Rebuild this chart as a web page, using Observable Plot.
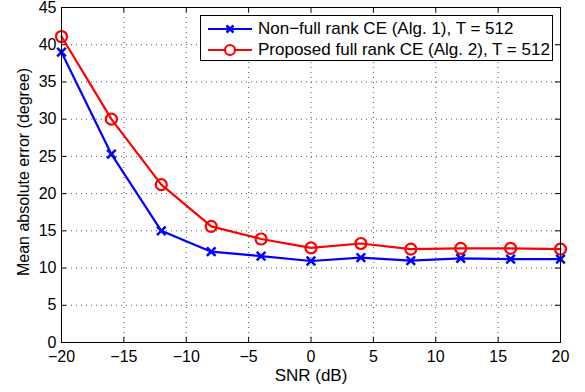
<!DOCTYPE html>
<html>
<head>
<meta charset="utf-8">
<script src="https://cdn.jsdelivr.net/npm/d3@7"></script>
<script src="https://cdn.jsdelivr.net/npm/@observablehq/plot@0.6"></script>
<style>
  html, body { margin: 0; padding: 0; background: #fff; }
  #wrap { position: relative; width: 585px; height: 392px; font-family: "Liberation Sans", Arial, sans-serif; }
  #legend { position: absolute; left: 200px; top: 15px; width: 351px; height: 44px; background: #fff; border: 1px solid #000; font-size: 17px; color: #000; }
  .row { position: absolute; left: 0; height: 20px; display: flex; align-items: center; white-space: nowrap; }
  .row svg { margin-left: 7px; margin-right: 6px; }
</style>
</head>
<body>
<div id="wrap"></div>
<script>
const snr = [-20, -16, -12, -8, -4, 0, 4, 8, 12, 16, 20];
const nonFull = [39.0, 25.3, 15.0, 12.2, 11.6, 10.95, 11.4, 11.0, 11.3, 11.2, 11.2];
const proposed = [41.1, 30.0, 21.2, 15.6, 13.9, 12.7, 13.3, 12.55, 12.65, 12.65, 12.55];
const seriesNames = ["Non\u2212full rank CE (Alg. 1), T = 512", "Proposed full rank CE (Alg. 2), T = 512"];
const seriesColors = ["#0000ff", "#ff0000"];
const xTicks = [-20, -15, -10, -5, 0, 5, 10, 15, 20];
const yTicks = [0, 5, 10, 15, 20, 25, 30, 35, 40, 45];
const xLabel = "SNR (dB)";
const yLabel = "Mean absolute error (degree)";

const blue = snr.map((x, i) => ({x, y: nonFull[i]}));
const red = snr.map((x, i) => ({x, y: proposed[i]}));
const fmt = d => d < 0 ? "\u2212" + Math.abs(d) : String(d);

const tx = 0.4, ty = 0.7; // inner tick lengths in data units
const plot = Plot.plot({
  width: 585, height: 392,
  marginLeft: 61, marginRight: 25, marginTop: 7, marginBottom: 50,
  style: {fontFamily: "Liberation Sans, Arial, sans-serif", fontSize: "16px", color: "#000", background: "#fff"},
  x: {domain: [-20, 20], ticks: xTicks, tickFormat: fmt, label: null},
  y: {domain: [0, 45], ticks: yTicks, label: null},
  marks: [
    Plot.gridX(xTicks.slice(1, -1), {stroke: "#555", strokeOpacity: 1, strokeDasharray: "1,4", strokeWidth: 1}),
    Plot.gridY(yTicks.slice(1, -1), {stroke: "#555", strokeOpacity: 1, strokeDasharray: "1,4", strokeWidth: 1}),
    Plot.ruleX(xTicks, {y1: 0, y2: ty, stroke: "#000"}),
    Plot.ruleX(xTicks, {y1: 45, y2: 45 - ty, stroke: "#000"}),
    Plot.ruleY(yTicks, {x1: -20, x2: -20 + tx, stroke: "#000"}),
    Plot.ruleY(yTicks, {x1: 20, x2: 20 - tx, stroke: "#000"}),
    Plot.axisX({ticks: xTicks, tickSize: 0, tickPadding: 8, fontSize: 16, tickFormat: fmt, label: null}),
    Plot.axisY({ticks: yTicks, tickSize: 0, tickPadding: 5, fontSize: 16, label: null}),
    Plot.text([xLabel], {frameAnchor: "bottom", dy: 38, fontSize: 17, fill: "#000"}),
    Plot.text([yLabel], {frameAnchor: "left", textAnchor: "middle", dx: -38, dy: -3, rotate: -90, fontSize: 16, fill: "#000"}),
    Plot.line(red, {x: "x", y: "y", stroke: seriesColors[1], strokeWidth: 2.2}),
    Plot.dot(red, {x: "x", y: "y", r: 5.5, stroke: seriesColors[1], strokeWidth: 2.2, fill: "none"}),
    Plot.line(blue, {x: "x", y: "y", stroke: seriesColors[0], strokeWidth: 2.2}),
    Plot.dot(blue, {x: "x", y: "y", r: 4, symbol: "times", stroke: seriesColors[0], strokeWidth: 2.5}),
    Plot.frame({stroke: "#000", strokeWidth: 1})
  ]
});
const wrap = document.getElementById("wrap");
wrap.appendChild(plot);

const legend = document.createElement("div");
legend.id = "legend";
const tops = [3, 24];
seriesNames.forEach((name, i) => {
  const row = document.createElement("div");
  row.className = "row";
  row.style.top = tops[i] + "px";
  const marker = i === 0
    ? `<path d="M18.5,6.5 L25.5,13.5 M25.5,6.5 L18.5,13.5" stroke="${seriesColors[i]}" stroke-width="2.5"/>`
    : `<circle cx="22" cy="10" r="5" fill="#fff" stroke="${seriesColors[i]}" stroke-width="2.2"/>`;
  row.innerHTML = `<svg width="44" height="20"><line x1="0" y1="10" x2="44" y2="10" stroke="${seriesColors[i]}" stroke-width="2.2"/>${marker}</svg><span>${name}</span>`;
  legend.appendChild(row);
});
wrap.appendChild(legend);
</script>
</body>
</html>
